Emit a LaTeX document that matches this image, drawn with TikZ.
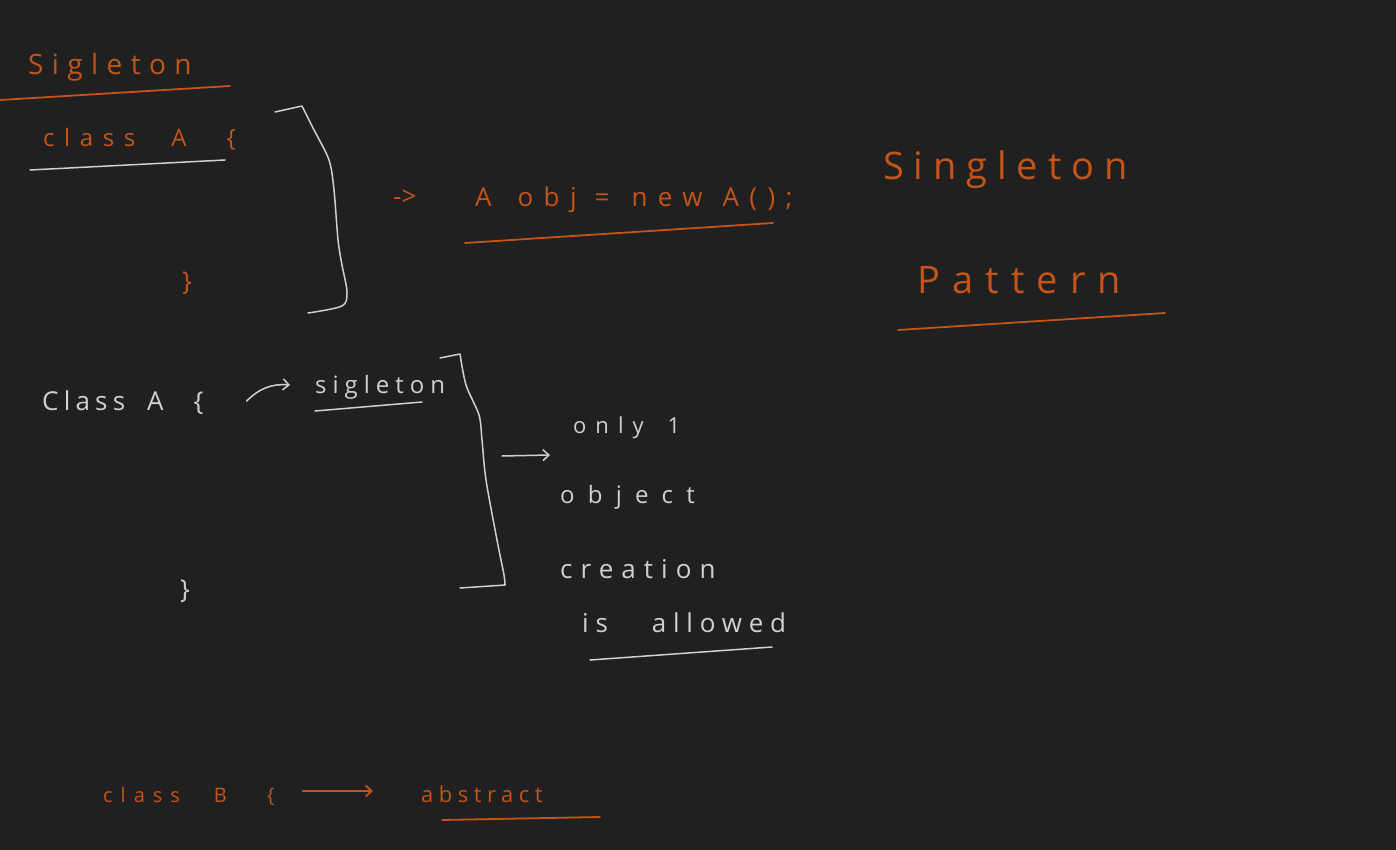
\documentclass[tikz,border=0pt]{standalone}
\usepackage{fontspec}
\setmainfont{Open Sans}
\usetikzlibrary{arrows.meta,calc}
\definecolor{board}{RGB}{32,32,32}
\definecolor{rust}{RGB}{196,84,24}
\definecolor{chalk}{RGB}{208,208,208}
\newcommand\hw[2]{\fontsize{#1}{#1}\selectfont\addfontfeatures{LetterSpace=#2}}

\begin{document}
\begin{tikzpicture}[x=1pt,y=-1pt,
    ink/.style={text=rust,anchor=base west,inner sep=0pt},
    wht/.style={text=chalk,anchor=base west,inner sep=0pt},
    pen/.style={draw=rust,line width=1.8pt,line cap=round},
    chk/.style={draw=chalk,line width=1.5pt,line cap=round,line join=round},
    tip/.style={-{Straight Barb[length=6pt,width=11pt]}}]

\fill[board] (0,0) rectangle (1396,850);
\useasboundingbox (0,0) rectangle (1396,850);

% first class A
\node[ink,font=\hw{28}{30}] (t1) at (28,75) {Sigleton};
\draw[pen] (0,100) -- (230,86);
\node[ink,font=\hw{24}{40}] (c1) at (43,147) {class\hspace{36pt}A\hspace{40pt}\{};
\draw[chk] (30,170) -- (225,160);
\node[ink,font=\hw{26}{0}] (e1) at (182,290) {\}};
\draw[chk] (275,112) -- (302,106) -- plot[smooth] coordinates {(302,106) (313,128) (329,160) (334,190) (338,240) (342,265) (347,292) (342,306) (308,313)};

\node[ink,font=\hw{26}{0}] (r1) at (393,206) {->};
\node[ink,font=\hw{26}{40}] (o1) at (475,207) {A\hspace{26pt}obj\hspace{18pt}=\hspace{22pt}new\hspace{20pt}A();};
\draw[pen] (465,243) -- (773,223);

% title
\node[ink,font=\hw{38}{26}] (p1) at (883,180) {Singleton};
\node[ink,font=\hw{38}{32}] (p2) at (917,293) {Pattern};
\draw[pen] (898,330) -- (1165,313);

% second class A
\node[wht,font=\hw{26}{20}] (c2) at (42,410) {Class\hspace{22pt}A\hspace{30pt}\{};
\node[wht,font=\hw{24}{25}] (s2) at (315,393) {sigleton};
\draw[chk] (315,411) -- (422,402);
\draw[chk,tip] ($(c2.base east)+(43,-9)$) to[bend left=25] ($(s2.base west)+(-25,-8)$);
\node[wht,font=\hw{26}{0}] (e2) at (180,598) {\}};
\draw[chk] (440,358) -- (460,354) -- plot[smooth] coordinates {(460,354) (466,385) (479,415) (482,440) (486,480) (497,540) (504,575) (505,585)} -- (460,588);

\coordinate (b2) at (502,456);
\coordinate (b3) at (550,455);
\draw[chk,tip] (b2) -- (b3);

\node[wht,font=\hw{22}{41}] (n1) at (573,433) {only\hspace{24pt}1};
\node[wht,font=\hw{24}{55}] (n2) at (560,503) {object};
\node[wht,font=\hw{26}{31}] (n3) at (560,578) {creation};
\node[wht,font=\hw{26}{26}] (n4) at (582,632) {is\hspace{44pt}allowed};
\draw[chk] (590,660) -- (772,647);

% class B
\node[ink,font=\hw{20}{40}] (c3) at (103,802) {class\hspace{34pt}B\hspace{40pt}\{};
\node[ink,font=\hw{22}{25}] (a3) at (421,802) {abstract};
\draw[pen,tip] ($(c3.base east)+(28,-11)$) -- ($(a3.base west)+(-48,-11)$);
\draw[pen] (442,820) -- (600,817);

\end{tikzpicture}
\end{document}
